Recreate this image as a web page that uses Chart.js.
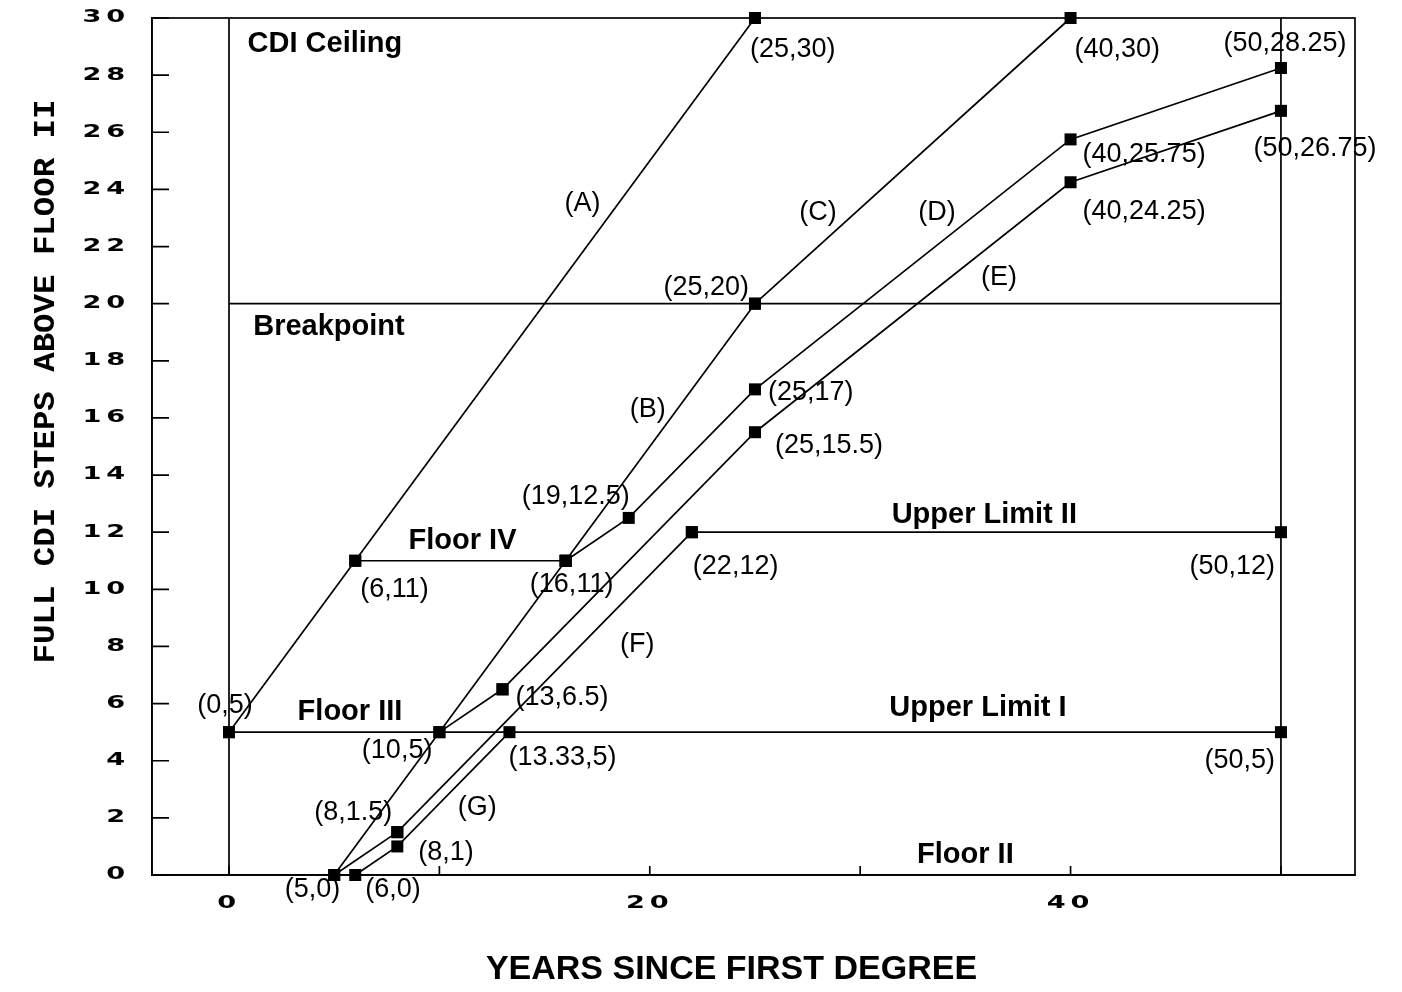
<!DOCTYPE html>
<html>
<head>
<meta charset="utf-8">
<title>CDI steps above Floor II</title>
<script src="https://cdn.jsdelivr.net/npm/chart.js@4.4.0/dist/chart.umd.min.js"></script>
<style>
  html, body { margin: 0; padding: 0; background: #fff; }
  #wrap { width: 1402px; height: 992px; position: relative; }
</style>
</head>
<body>
<div id="wrap"><canvas id="chartCdi"></canvas></div>
<script>
// x = years since first degree, y = full CDI steps above Floor II
const pathA_x = [0, 6, 25];
const pathA_y = [5, 11, 30];
const floorIV_x = [6, 16];
const floorIV_y = [11, 11];
const pathB_x = [5, 10, 16, 25];
const pathB_y = [0, 5, 11, 20];
const pathC_x = [25, 40];
const pathC_y = [20, 30];
const pathD_x = [16, 19, 25, 40, 50];
const pathD_y = [11, 12.5, 17, 25.75, 28.25];
const link_x = [10, 13];
const link_y = [5, 6.5];
const pathE_x = [13, 25, 40, 50];
const pathE_y = [6.5, 15.5, 24.25, 26.75];
const start_x = [5, 8];
const start_y = [0, 1.5];
const pathF_x = [8, 22];
const pathF_y = [1.5, 12];
const upperII_x = [22, 50];
const upperII_y = [12, 12];
const pathG_x = [6, 8, 13.33];
const pathG_y = [0, 1, 5];
const upperI_x = [0, 50];
const upperI_y = [5, 5];
// reference lines without markers
const breakpoint_x = [0, 50];
const breakpoint_y = [20, 20];
const edge0_x = [0, 0];
const edge0_y = [0, 30];
const edge50_x = [50, 50];
const edge50_y = [0, 30];

const xTickLabels = [0, 20, 40];

const lineNames = ['(A)', '(B)', '(C)', '(D)', '(E)', '(F)', '(G)'];
const lineNameX = [16.8, 19.9, 28.0, 33.65, 36.6, 19.4, 11.8];
const lineNameY = [23.5, 16.3, 23.2, 23.2, 20.9, 8.05, 2.35];

const zoneNames = ['CDI Ceiling', 'Breakpoint', 'Floor IV', 'Floor III', 'Upper Limit II', 'Upper Limit I', 'Floor II'];
const zoneX = [4.56, 4.75, 11.1, 5.75, 35.9, 35.6, 35.0];
const zoneY = [29.1, 19.2, 11.7, 5.7, 12.6, 5.85, 0.7];

// where each point's "(x,y)" label sits relative to its marker: [dx, dy, align]
const pointLabelPos = {
  '25,30': [-5, 32, 'left'],
  '40,30': [4, 32, 'left'],
  '50,28.25': [4, -24, 'center'],
  '50,26.75': [34, 38, 'center'],
  '40,25.75': [12, 15, 'left'],
  '40,24.25': [12, 29, 'left'],
  '25,20': [-6, -16, 'right'],
  '25,17': [13, 3, 'left'],
  '25,15.5': [20, 13, 'left'],
  '19,12.5': [1, -21, 'right'],
  '6,11': [5, 29, 'left'],
  '16,11': [6, 24, 'center'],
  '22,12': [1, 34, 'left'],
  '50,12': [-6, 34, 'right'],
  '0,5': [-4, -27, 'center'],
  '10,5': [-7, 18, 'right'],
  '13,6.5': [13, 8, 'left'],
  '13.33,5': [-1, 25, 'left'],
  '50,5': [-6, 28, 'right'],
  '8,1.5': [-5, -20, 'right'],
  '8,1': [21, 6, 'left'],
  '5,0': [6, 15, 'right'],
  '6,0': [10, 15, 'left']
};

function toPoints(xs, ys) {
  return xs.map((x, i) => ({ x: x, y: ys[i] }));
}

function path(xs, ys, marked) {
  return {
    data: toPoints(xs, ys),
    showLine: true,
    borderColor: '#000',
    borderWidth: 1.7,
    backgroundColor: '#000',
    pointStyle: 'rect',
    pointRadius: marked ? 8.5 : 0,
    pointBorderWidth: 0,
    pointBackgroundColor: '#000',
    clip: false
  };
}

// squat, wide tick digits like the original plot
function stretchLabels(scale, sx) {
  scale.drawLabels = function (area) {
    const ctx = this.ctx;
    for (const item of this.getLabelItems(area)) {
      if (item.label === '') continue;
      const o = item.options;
      ctx.save();
      ctx.translate(o.translation[0], o.translation[1]);
      ctx.scale(sx, 1);
      ctx.letterSpacing = '3px';
      ctx.font = item.font.string;
      ctx.fillStyle = o.color;
      ctx.textAlign = o.textAlign;
      ctx.textBaseline = o.textBaseline;
      ctx.fillText(item.label, 0, item.textOffset);
      ctx.restore();
    }
  };
}

function shiftTitle(scale, dx, dy, stretchY) {
  const orig = scale.drawTitle;
  scale.drawTitle = function () {
    const ctx = this.ctx;
    const cy = (this.top + this.bottom) / 2;
    ctx.save();
    ctx.translate(dx, dy + cy);
    ctx.scale(1, stretchY);
    ctx.translate(0, -cy);
    orig.call(this);
    ctx.restore();
  };
}

const axisStyle = {
  id: 'axisStyle',
  beforeDraw(chart) {
    const { x, y } = chart.scales;
    if (x._styled) return;
    stretchLabels(y, 1.6);
    stretchLabels(x, 1.6);
    shiftTitle(y, 0, -65, 1.08);
    shiftTitle(x, -22, 0, 1);
    x._styled = true;
  }
};

const notes = {
  id: 'notes',
  afterDraw(chart) {
    const { ctx, chartArea: a, scales: { x, y } } = chart;
    ctx.save();
    ctx.strokeStyle = '#000';
    ctx.lineWidth = 1.7;
    ctx.strokeRect(a.left, a.top, a.right - a.left, a.bottom - a.top);

    // tick marks point inward
    ctx.beginPath();
    y.ticks.forEach(t => {
      const py = y.getPixelForValue(t.value);
      ctx.moveTo(a.left, py);
      ctx.lineTo(a.left + 17, py);
    });
    x.ticks.forEach(t => {
      const px = x.getPixelForValue(t.value);
      ctx.moveTo(px, a.bottom);
      ctx.lineTo(px, a.bottom - 9);
    });
    ctx.stroke();

    ctx.fillStyle = '#000';
    ctx.textBaseline = 'middle';

    // coordinate labels next to the markers
    ctx.font = '27px "Liberation Sans", Arial, sans-serif';
    const seen = {};
    chart.data.datasets.forEach(ds => {
      if (!ds.pointRadius) return;
      ds.data.forEach(p => {
        const key = p.x + ',' + p.y;
        const pos = pointLabelPos[key];
        if (!pos || seen[key]) return;
        seen[key] = true;
        ctx.textAlign = pos[2];
        ctx.fillText('(' + key + ')', x.getPixelForValue(p.x) + pos[0], y.getPixelForValue(p.y) + pos[1]);
      });
    });

    ctx.textAlign = 'center';
    lineNames.forEach((t, i) => {
      ctx.fillText(t, x.getPixelForValue(lineNameX[i]), y.getPixelForValue(lineNameY[i]));
    });

    ctx.font = 'bold 29px "Liberation Sans", Arial, sans-serif';
    zoneNames.forEach((t, i) => {
      ctx.fillText(t, x.getPixelForValue(zoneX[i]), y.getPixelForValue(zoneY[i]));
    });
    ctx.restore();
  }
};

const tickFont = { family: '"DejaVu Sans", sans-serif', weight: 'bold', size: 17 };

new Chart(document.getElementById('chartCdi').getContext('2d'), {
  type: 'scatter',
  data: {
    datasets: [
      path(edge0_x, edge0_y, false),
      path(edge50_x, edge50_y, false),
      path(breakpoint_x, breakpoint_y, false),
      path(upperI_x, upperI_y, true),
      path(pathA_x, pathA_y, true),
      path(floorIV_x, floorIV_y, true),
      path(pathB_x, pathB_y, true),
      path(pathC_x, pathC_y, true),
      path(pathD_x, pathD_y, true),
      path(link_x, link_y, true),
      path(pathE_x, pathE_y, true),
      path(start_x, start_y, true),
      path(pathF_x, pathF_y, true),
      path(upperII_x, upperII_y, true),
      path(pathG_x, pathG_y, true)
    ]
  },
  options: {
    responsive: true,
    maintainAspectRatio: false,
    animation: false,
    events: [],
    layout: { padding: { left: 0, right: 47, top: 18, bottom: 0 } },
    plugins: { legend: { display: false }, tooltip: { enabled: false } },
    scales: {
      x: {
        type: 'linear',
        min: -3.66,
        max: 53.52,
        ticks: {
          stepSize: 10,
          includeBounds: false,
          color: '#000',
          font: tickFont,
          padding: 18,
          maxRotation: 0,
          autoSkip: false,
          callback: v => xTickLabels.includes(v) ? String(v) : ''
        },
        grid: { display: false, drawTicks: false },
        border: { display: true, color: '#000', width: 1.7 },
        title: {
          display: true,
          text: 'YEARS SINCE FIRST DEGREE',
          color: '#000',
          font: { family: '"Liberation Sans", Arial, sans-serif', weight: 'bold', size: 34 },
          padding: { top: 0, bottom: 2 }
        },
        afterFit: s => { s.height = 117; s.paddingLeft = 0; s.paddingRight = 0; }
      },
      y: {
        type: 'linear',
        min: 0,
        max: 30,
        ticks: { stepSize: 2, color: '#000', font: tickFont, padding: 22, autoSkip: false },
        grid: { display: false, drawTicks: false },
        border: { display: true, color: '#000', width: 1.7 },
        title: {
          display: true,
          text: 'FULL CDI STEPS ABOVE FLOOR II',
          color: '#000',
          font: { family: '"Liberation Mono", monospace', weight: 'bold', size: 30 },
          padding: { top: 28, bottom: 0 }
        },
        afterFit: s => { s.width = 152; s.paddingTop = 0; s.paddingBottom = 0; }
      }
    }
  },
  plugins: [axisStyle, notes]
});
</script>
</body>
</html>
